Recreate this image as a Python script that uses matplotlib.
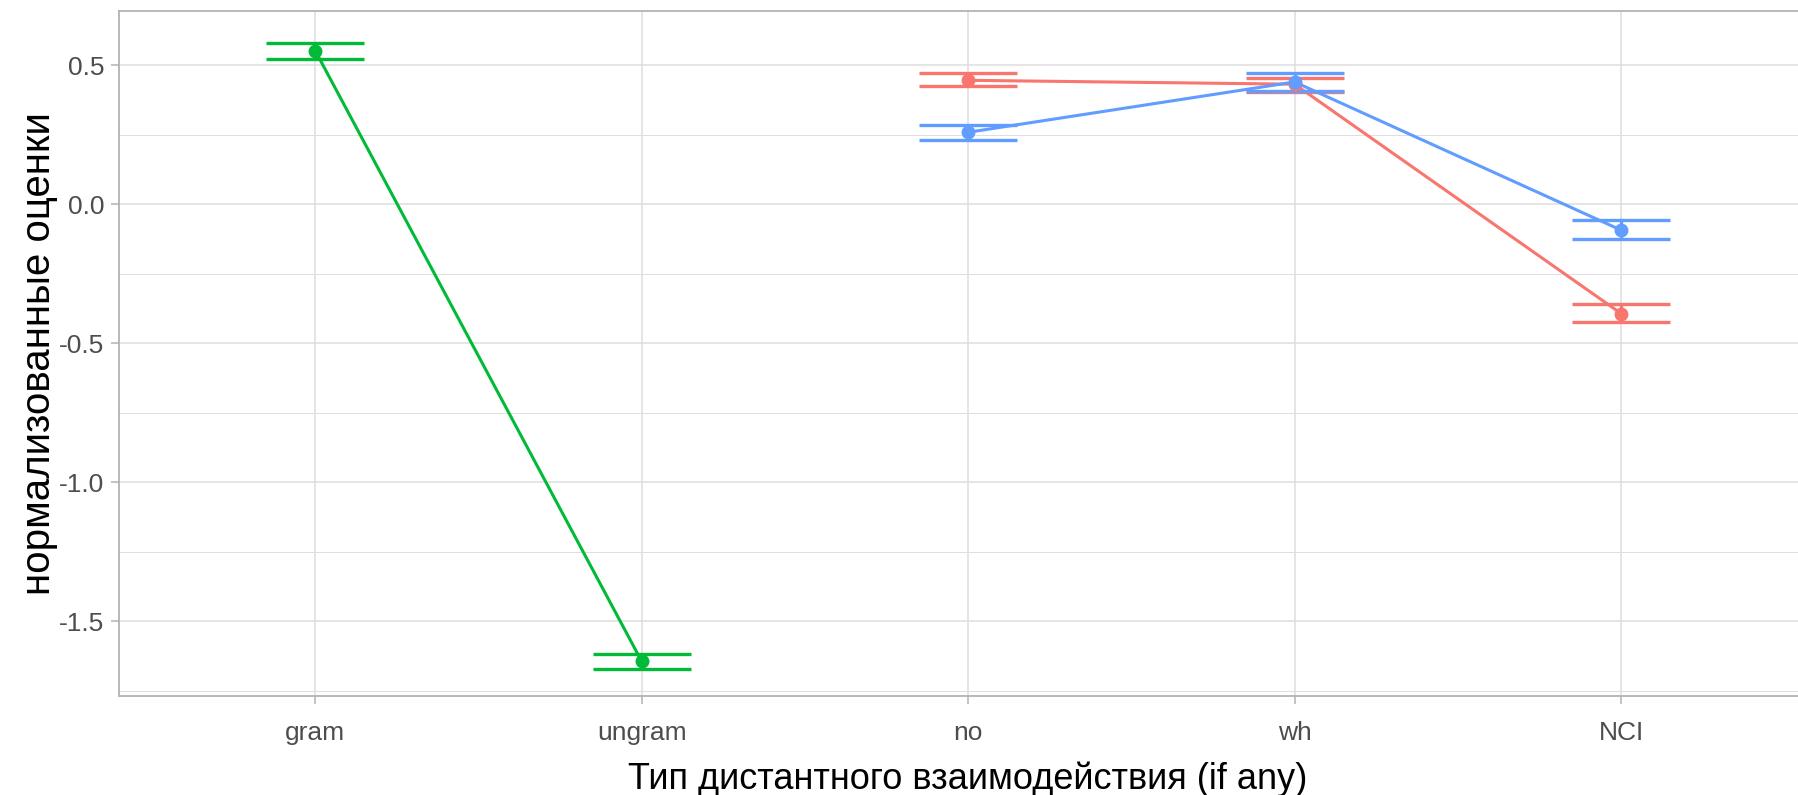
import numpy as np
import matplotlib
matplotlib.use("Agg")
import matplotlib.pyplot as plt
from matplotlib.ticker import MultipleLocator

plt.rcParams['font.family'] = ['Liberation Sans', 'DejaVu Sans']

categories = ['gram', 'ungram', 'no', 'wh', 'NCI']

# control group: grammatical vs ungrammatical
green_cats = ['gram', 'ungram']
green_mean = [0.553, -1.644]
green_lo = [0.524, -1.670]
green_hi = [0.581, -1.618]

# two experimental conditions over dependency type
red_cats = ['no', 'wh', 'NCI']
red_mean = [0.446, 0.432, -0.393]
red_lo = [0.426, 0.403, -0.425]
red_hi = [0.471, 0.456, -0.357]

blue_cats = ['no', 'wh', 'NCI']
blue_mean = [0.259, 0.440, -0.093]
blue_lo = [0.231, 0.409, -0.124]
blue_hi = [0.286, 0.472, -0.057]

series = [
    (green_cats, green_mean, green_lo, green_hi, '#00BA38'),
    (red_cats, red_mean, red_lo, red_hi, '#F8766D'),
    (blue_cats, blue_mean, blue_lo, blue_hi, '#619CFF'),
]

fig = plt.figure(figsize=(17.99, 7.95), dpi=100)
ax = fig.add_axes([0.0663, 0.1245, 0.9437, 0.8612])

pos = {c: i + 1 for i, c in enumerate(categories)}
half = 0.15
for cats, mean, lo, hi, col in series:
    x = np.array([pos[c] for c in cats], dtype=float)
    ax.plot(x, mean, color=col, lw=2.2, zorder=3, solid_capstyle='butt')
    ax.hlines(lo, x - half, x + half, color=col, lw=2.4, zorder=3)
    ax.hlines(hi, x - half, x + half, color=col, lw=2.4, zorder=3)
    ax.vlines(x, lo, hi, color=col, lw=2.4, zorder=3)
    ax.plot(x, mean, 'o', color=col, ms=9, zorder=4)

ax.set_xlim(0.4, 5.6)
ax.set_ylim(-1.769, 0.694)
ax.set_xticks(range(1, len(categories) + 1))
ax.set_xticklabels(categories)
ax.yaxis.set_major_locator(MultipleLocator(0.5))
ax.yaxis.set_minor_locator(MultipleLocator(0.25))
ax.yaxis.set_major_formatter(plt.FuncFormatter(lambda v, p: f'{v:.1f}'))

grid_col = '#DEDEDE'
ax.grid(True, which='major', color=grid_col, lw=1.1, zorder=0)
ax.grid(True, which='minor', axis='y', color=grid_col, lw=0.7, zorder=0)
ax.set_axisbelow(True)

for sp in ax.spines.values():
    sp.set_color('#B3B3B3')
    sp.set_linewidth(1.3)

ax.tick_params(axis='both', which='major', colors='#B3B3B3', labelcolor='#4D4D4D',
               labelsize=19, length=5.8, width=1.1)
ax.tick_params(axis='y', which='minor', length=0)
ax.tick_params(axis='x', pad=12)
ax.tick_params(axis='y', pad=5)

ax.set_xlabel('Тип дистантного взаимодействия (if any)', fontsize=26, color='black', labelpad=12)
ax.set_ylabel('нормализованные оценки', fontsize=29, color='black', labelpad=1)

fig.savefig('out.png', dpi=100)
